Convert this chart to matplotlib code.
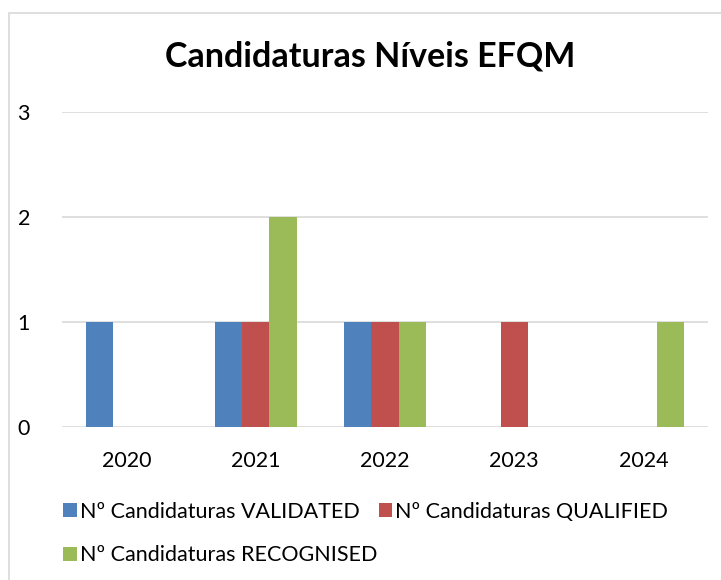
import matplotlib
matplotlib.use("Agg")
import matplotlib.pyplot as plt
import numpy as np
from matplotlib.patches import Rectangle

years = ["2020", "2021", "2022", "2023", "2024"]
validated = [1, 1, 1, 0, 0]
qualified = [0, 1, 1, 1, 0]
recognised = [0, 2, 1, 0, 1]
series_names = ["Nº Candidaturas VALIDATED", "Nº Candidaturas QUALIFIED",
                "Nº Candidaturas RECOGNISED"]
colors = ["#4F81BD", "#C0504D", "#9BBB59"]

plt.rcParams['font.family'] = ['Lato', 'DejaVu Sans']

fig = plt.figure(figsize=(7.21, 5.80), dpi=100)
ax = fig.add_axes([0.086, 0.2638, 0.896, 0.5431])

x = np.arange(len(years))
w = 0.21
bars = []
for i, vals in enumerate([validated, qualified, recognised]):
    b = ax.bar(x + (i - 1) * w, vals, width=w, color=colors[i],
               label=series_names[i], zorder=3)
    bars.append(b)

ax.set_xlim(-0.5, len(years) - 0.5)
ax.set_ylim(0, 3)
ax.set_yticks([0, 1, 2, 3])
ax.set_xticks(x)
ax.set_xticklabels(years)
ax.tick_params(axis='both', length=0, labelsize=15.5, colors='black')
ax.tick_params(axis='y', pad=23)
ax.tick_params(axis='x', pad=17)
ax.grid(axis='y', color='#D9D9D9', linewidth=1.2, zorder=0)
for s in ax.spines.values():
    s.set_visible(False)

fig.text(0.513, 0.903, "Candidaturas Níveis EFQM", ha='center', va='center',
         fontsize=24.5, fontweight='bold')

# legend: column-major fill, so reorder to get two entries on the first row
handles = [bars[0], bars[2], bars[1]]
labels = [series_names[0], series_names[2], series_names[1]]
fig.legend(handles, labels, ncol=2, loc='upper left',
           bbox_to_anchor=(0.076, 0.15), frameon=False, fontsize=15.5,
           handlelength=0.62, handleheight=0.62, handletextpad=0.15,
           columnspacing=0.07, labelspacing=1.1, borderaxespad=0)

# chart border
fig.patches.append(Rectangle((9 / 721, -0.1), 1.1, (580 - 13) / 580 + 0.1,
                             transform=fig.transFigure, fill=False,
                             edgecolor='#D9D9D9', linewidth=1.2))

fig.savefig("out.png", dpi=100)
